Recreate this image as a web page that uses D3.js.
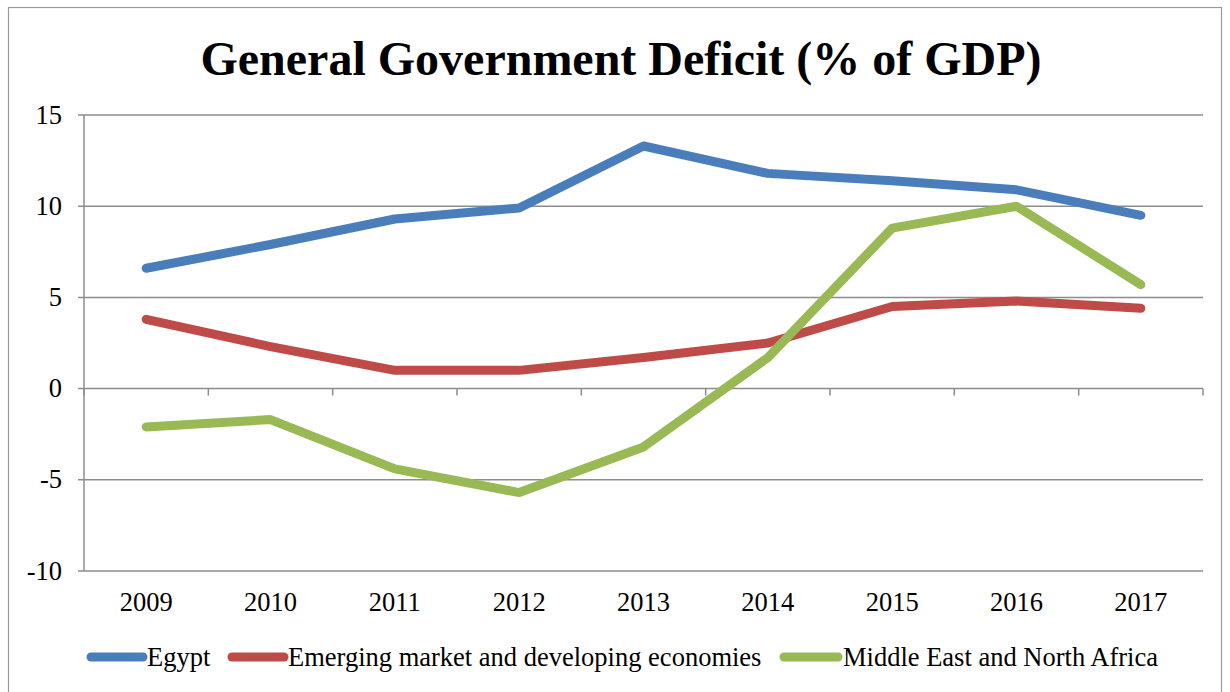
<!DOCTYPE html>
<html>
<head>
<meta charset="utf-8">
<script src="https://cdn.jsdelivr.net/npm/d3@7"></script>
<style>
  html, body { margin: 0; padding: 0; background: #fff; }
  svg { display: block; font-family: "Liberation Serif", "Times New Roman", serif; }
</style>
</head>
<body>
<svg id="chart" width="1230" height="692"></svg>
<script>
const years = ["2009", "2010", "2011", "2012", "2013", "2014", "2015", "2016", "2017"];
const egypt = [6.6, 7.9, 9.3, 9.9, 13.3, 11.8, 11.4, 10.9, 9.5];
const emerging = [3.8, 2.3, 1.0, 1.0, 1.7, 2.5, 4.5, 4.8, 4.4];
const mena = [-2.1, -1.7, -4.4, -5.7, -3.2, 1.7, 8.8, 10.0, 5.7];
const yTicks = [-10, -5, 0, 5, 10, 15];

const seriesList = [
  { name: "Egypt", values: egypt, color: "#4a7ebb" },
  { name: "Emerging market and developing economies", values: emerging, color: "#be4b48" },
  { name: "Middle East and North Africa", values: mena, color: "#98b954" }
];

const svg = d3.select("#chart");
const plot = { left: 84, right: 1203, top: 115, bottom: 571 };
const gridColor = "#8c8c8c";
const labelSize = 26.5;

// outer frame
svg.append("rect")
  .attr("x", 8.5).attr("y", 7.5).attr("width", 1213).attr("height", 700)
  .attr("fill", "none").attr("stroke", "#9a9a9a").attr("stroke-width", 1.2);

svg.append("text")
  .attr("x", 621).attr("y", 75)
  .attr("text-anchor", "middle")
  .attr("font-size", 48).attr("font-weight", "bold")
  .text("General Government Deficit (% of GDP)");

const x = d3.scalePoint().domain(years).range([plot.left, plot.right]).padding(0.5);
const y = d3.scaleLinear().domain([-10, 15]).range([plot.bottom, plot.top]);

// horizontal gridlines
svg.append("g").selectAll("line").data(yTicks).join("line")
  .attr("x1", plot.left - 6).attr("x2", plot.right)
  .attr("y1", d => y(d)).attr("y2", d => y(d))
  .attr("stroke", gridColor).attr("stroke-width", 1.5);

// value axis line
svg.append("line")
  .attr("x1", plot.left).attr("x2", plot.left).attr("y1", plot.top).attr("y2", plot.bottom)
  .attr("stroke", gridColor).attr("stroke-width", 1.5);

// y tick labels
svg.append("g").selectAll("text").data(yTicks).join("text")
  .attr("x", 62).attr("y", d => y(d) + 8.5)
  .attr("text-anchor", "end").attr("font-size", labelSize)
  .text(d => d);

// category tick marks on the zero line
const step = x.step();
const boundaries = d3.range(years.length + 1).map(i => plot.left + i * step);
svg.append("g").selectAll("line").data(boundaries).join("line")
  .attr("x1", d => d).attr("x2", d => d)
  .attr("y1", y(0)).attr("y2", y(0) + 7)
  .attr("stroke", gridColor).attr("stroke-width", 1.5);

// category labels
svg.append("g").selectAll("text").data(years).join("text")
  .attr("x", d => x(d)).attr("y", 611)
  .attr("text-anchor", "middle").attr("font-size", labelSize)
  .text(d => d);

// series lines
const line = d3.line().x((d, i) => x(years[i])).y(d => y(d));
svg.append("g").selectAll("path").data(seriesList).join("path")
  .attr("d", d => line(d.values))
  .attr("fill", "none")
  .attr("stroke", d => d.color)
  .attr("stroke-width", 9)
  .attr("stroke-linecap", "round")
  .attr("stroke-linejoin", "round");

// legend
const legendItems = [
  { x1: 91, x2: 143, tx: 147 },
  { x1: 232, x2: 284, tx: 288 },
  { x1: 784, x2: 838, tx: 843 }
];
const lg = svg.append("g");
seriesList.forEach((s, i) => {
  const it = legendItems[i];
  lg.append("line")
    .attr("x1", it.x1).attr("x2", it.x2).attr("y1", 657).attr("y2", 657)
    .attr("stroke", s.color).attr("stroke-width", 9).attr("stroke-linecap", "round");
  lg.append("text")
    .attr("x", it.tx).attr("y", 666)
    .attr("font-size", labelSize)
    .text(s.name);
});
</script>
</body>
</html>
